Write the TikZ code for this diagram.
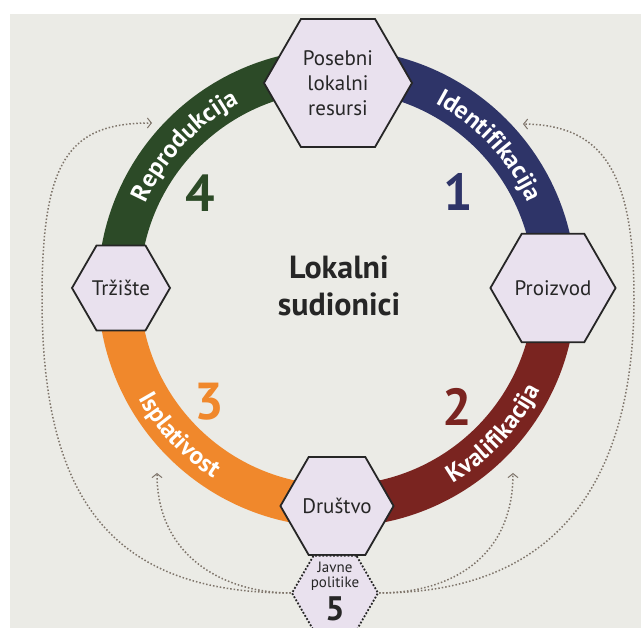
\documentclass[tikz,border=0pt]{standalone}
\usepackage{fontspec}
\setmainfont{PT Sans}
\usetikzlibrary{shapes.geometric,decorations.text,arrows.meta}
\definecolor{bgcol}{HTML}{EBEBE6}
\definecolor{idcol}{HTML}{2E3468}
\definecolor{kvcol}{HTML}{7A2420}
\definecolor{ispcol}{HTML}{F0882C}
\definecolor{repcol}{HTML}{2C4A27}
\definecolor{hexcol}{HTML}{E9E1EE}
\definecolor{inkcol}{HTML}{262626}
\definecolor{dotcol}{HTML}{7E746A}
\tikzset{
 hexbox/.style={regular polygon,regular polygon sides=6,draw=inkcol,line width=1.8pt,fill=hexcol,inner sep=0pt,align=center,text=inkcol,font=\fontsize{21}{25}\selectfont},
 numlab/.style={font=\fontsize{52}{52}\selectfont\bfseries},
 loopline/.style={dotcol,line width=1.5pt,dash pattern=on 1.5pt off 2pt,-{Straight Barb[length=4pt,width=10pt,line width=1pt]}},
 arclab/.style={decorate,decoration={text along path,text align=center,text color=white,text={|\fontsize{25}{25}\selectfont\bfseries|#1}}},
}
\begin{document}
\begin{tikzpicture}[x=1pt,y=1pt]
\pgfmathsetmacro{\rMid}{218}
\pgfmathsetmacro{\rIn}{209}
\pgfmathsetmacro{\rOut}{227}
\pgfmathsetmacro{\band}{42}
%
\clip(0,0)rectangle(641,628);
\fill[white](0,0)rectangle(641,628);
\fill[bgcol](10,0)rectangle(641,614);
\coordinate(C)at(337,340);
\coordinate(tl)at(152,505);
\coordinate(tr)at(523,504);
\coordinate(bl)at(157,155);
\coordinate(br)at(513,155);
%
\draw[line width=\band pt,idcol]([shift={(90:\rMid pt)}]C)arc[start angle=90,end angle=0,radius=\rMid pt];
\draw[line width=\band pt,kvcol]([shift={(0:\rMid pt)}]C)arc[start angle=0,end angle=-90,radius=\rMid pt];
\draw[line width=\band pt,ispcol]([shift={(-90:\rMid pt)}]C)arc[start angle=-90,end angle=-180,radius=\rMid pt];
\draw[line width=\band pt,repcol]([shift={(180:\rMid pt)}]C)arc[start angle=180,end angle=90,radius=\rMid pt];
%
\path[arclab=Identifikacija]([shift={(80:\rIn pt)}]C)arc[start angle=80,end angle=6,radius=\rIn pt];
\path[arclab=Reprodukcija]([shift={(174:\rIn pt)}]C)arc[start angle=174,end angle=100,radius=\rIn pt];
\path[arclab=Kvalifikacija]([shift={(-80:\rOut pt)}]C)arc[start angle=-80,end angle=-6,radius=\rOut pt];
\path[arclab=Isplativost]([shift={(-174:\rOut pt)}]C)arc[start angle=-174,end angle=-100,radius=\rOut pt];
%
\node[numlab,text=idcol](n1)at(458,436){1};
\node[numlab,text=kvcol](n2)at(457,221){2};
\node[numlab,text=ispcol](n3)at(209,226){3};
\node[numlab,text=repcol](n4)at(200,435){4};
\node[align=center,text=inkcol,font=\fontsize{32}{37}\selectfont\bfseries](lok)at(339,342){Lokalni\\sudionici};
%
\node[hexbox,minimum size=148pt](res)at(338,545){Posebni\\lokalni\\resursi};
\path(C)++(180:216)node[hexbox,minimum size=98pt](trz){Tržište};
\path(C)++(0:216)node[hexbox,minimum size=98pt](pro){Proizvod};
\path(C)++(-90:218)node[hexbox,minimum size=97pt](dru){Društvo};
\node[hexbox,minimum size=86pt,line width=1.8pt,dash pattern=on 1.8pt off 1.8pt](jav)at(335,35){};
\node[align=center,text=inkcol,font=\fontsize{15}{15}\selectfont](javt)at(335,52){Javne\\politike};
\node[text=inkcol,font=\fontsize{34}{34}\selectfont\bfseries,inner sep=1pt](n5)at(335,19){5};
%
\draw[loopline](jav.180)..controls(226,35)and(157,70)..(bl);
\draw[loopline](jav.0)..controls(450,35)and(513,70)..(br);
\draw[loopline](jav.0)..controls(560,35)and(634,150)..(634,330)..controls(634,460)and(600,503)..(tr);
\draw[loopline](jav.180)..controls(110,35)and(42,130)..(42,330)..controls(42,470)and(70,505)..(tl);
\end{tikzpicture}
\end{document}
